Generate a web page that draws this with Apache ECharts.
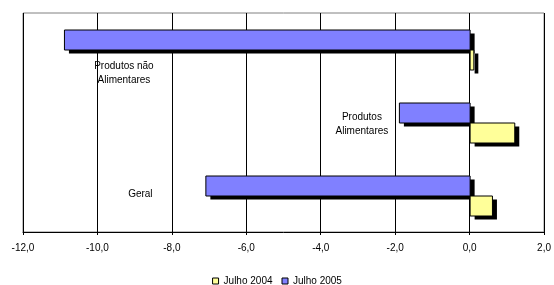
<!DOCTYPE html>
<html>
<head>
<meta charset="utf-8">
<script src="https://cdn.jsdelivr.net/npm/echarts@6/dist/echarts.min.js"></script>
<style>
  html, body { margin: 0; padding: 0; background: #fff; }
  #chart { width: 554px; height: 285px; }
</style>
</head>
<body>
<div id="chart"></div>
<script>
// categories, bottom to top
const categories = ['Geral', 'Produtos Alimentares', 'Produtos não Alimentares']
const julho2004 = [0.6, 1.2, 0.1]
const julho2005 = [-7.1, -1.9, -10.9]
const xTicks = { min: -12, max: 2, interval: 2 }

// category name placement, relative to the left end of the Julho 2005 bar and band centre
const labelPlace = [
    { dx: -65, dy: -1 },
    { dx: -37, dy: 2 },
    { dx: 60, dy: 24 }
]

const chart = echarts.init(document.getElementById('chart'))
const font = 'Liberation Sans, Arial, sans-serif'
const BAR = 20
const SHADOW = 5

// bar with hard black drop shadow, drawn through the axes
function barItem(color, side, withLabel) {
    return function (params, api) {
        const cat = api.value(0)
        const val = api.value(1)
        const p0 = api.coord([0, cat])
        const p1 = api.coord([val, cat])
        const x = Math.min(p0[0], p1[0])
        const w = Math.abs(p1[0] - p0[0])
        const y = side === 'top' ? p0[1] - BAR : p0[1]
        const children = [
            { type: 'rect', shape: { x: x + SHADOW, y: y + SHADOW - 1, width: w, height: BAR },
              style: { fill: '#000' } },
            { type: 'rect', shape: { x: x + 0.5, y: y + 0.5, width: w, height: BAR },
              style: { fill: color, stroke: '#000', lineWidth: 1 } }
        ]
        if (withLabel) {
            const lp = labelPlace[params.dataIndex]
            children.push({
                type: 'text',
                x: x + lp.dx,
                y: p0[1] + lp.dy,
                style: {
                    text: categories[cat].replace(' Alimentares', '\nAlimentares'),
                    fill: '#000',
                    font: '10px ' + font,
                    align: 'center',
                    verticalAlign: 'middle',
                    lineHeight: 14
                }
            })
        }
        return { type: 'group', children }
    }
}

chart.setOption({
    animation: false,
    textStyle: { fontFamily: font },
    grid: {
        left: 23, right: 9, top: 13, bottom: 53,
        show: true,
        borderColor: '#808080',
        borderWidth: 1
    },
    legend: {
        top: 276,
        left: 'center',
        padding: 0,
        icon: 'rect',
        itemWidth: 6,
        itemHeight: 6,
        itemGap: 9,
        itemStyle: { borderColor: '#000', borderWidth: 1 },
        textStyle: { fontSize: 10, color: '#000', fontFamily: font },
        data: ['Julho 2004', 'Julho 2005']
    },
    xAxis: {
        type: 'value',
        min: xTicks.min,
        max: xTicks.max,
        interval: xTicks.interval,
        axisLine: { show: true, onZero: false, lineStyle: { color: '#000', width: 1 } },
        axisTick: { show: true, length: 3, lineStyle: { color: '#000' } },
        axisLabel: {
            fontSize: 10,
            color: '#000',
            margin: 11,
            formatter: v => v.toFixed(1).replace('.', ',')
        },
        splitLine: { show: true, lineStyle: { color: '#000', width: 1 } }
    },
    yAxis: {
        type: 'category',
        data: categories,
        axisLine: { show: false },
        axisTick: { show: false },
        axisLabel: { show: false },
        splitLine: { show: false }
    },
    series: [
        {
            name: 'Julho 2005',
            type: 'custom',
            itemStyle: { color: '#8080FF' },
            renderItem: barItem('#8080FF', 'top', true),
            encode: { x: 1, y: 0 },
            data: julho2005.map((v, i) => [i, v])
        },
        {
            name: 'Julho 2004',
            type: 'custom',
            itemStyle: { color: '#FFFF99' },
            renderItem: barItem('#FFFF99', 'bottom', false),
            encode: { x: 1, y: 0 },
            data: julho2004.map((v, i) => [i, v])
        }
    ]
})
</script>
</body>
</html>
